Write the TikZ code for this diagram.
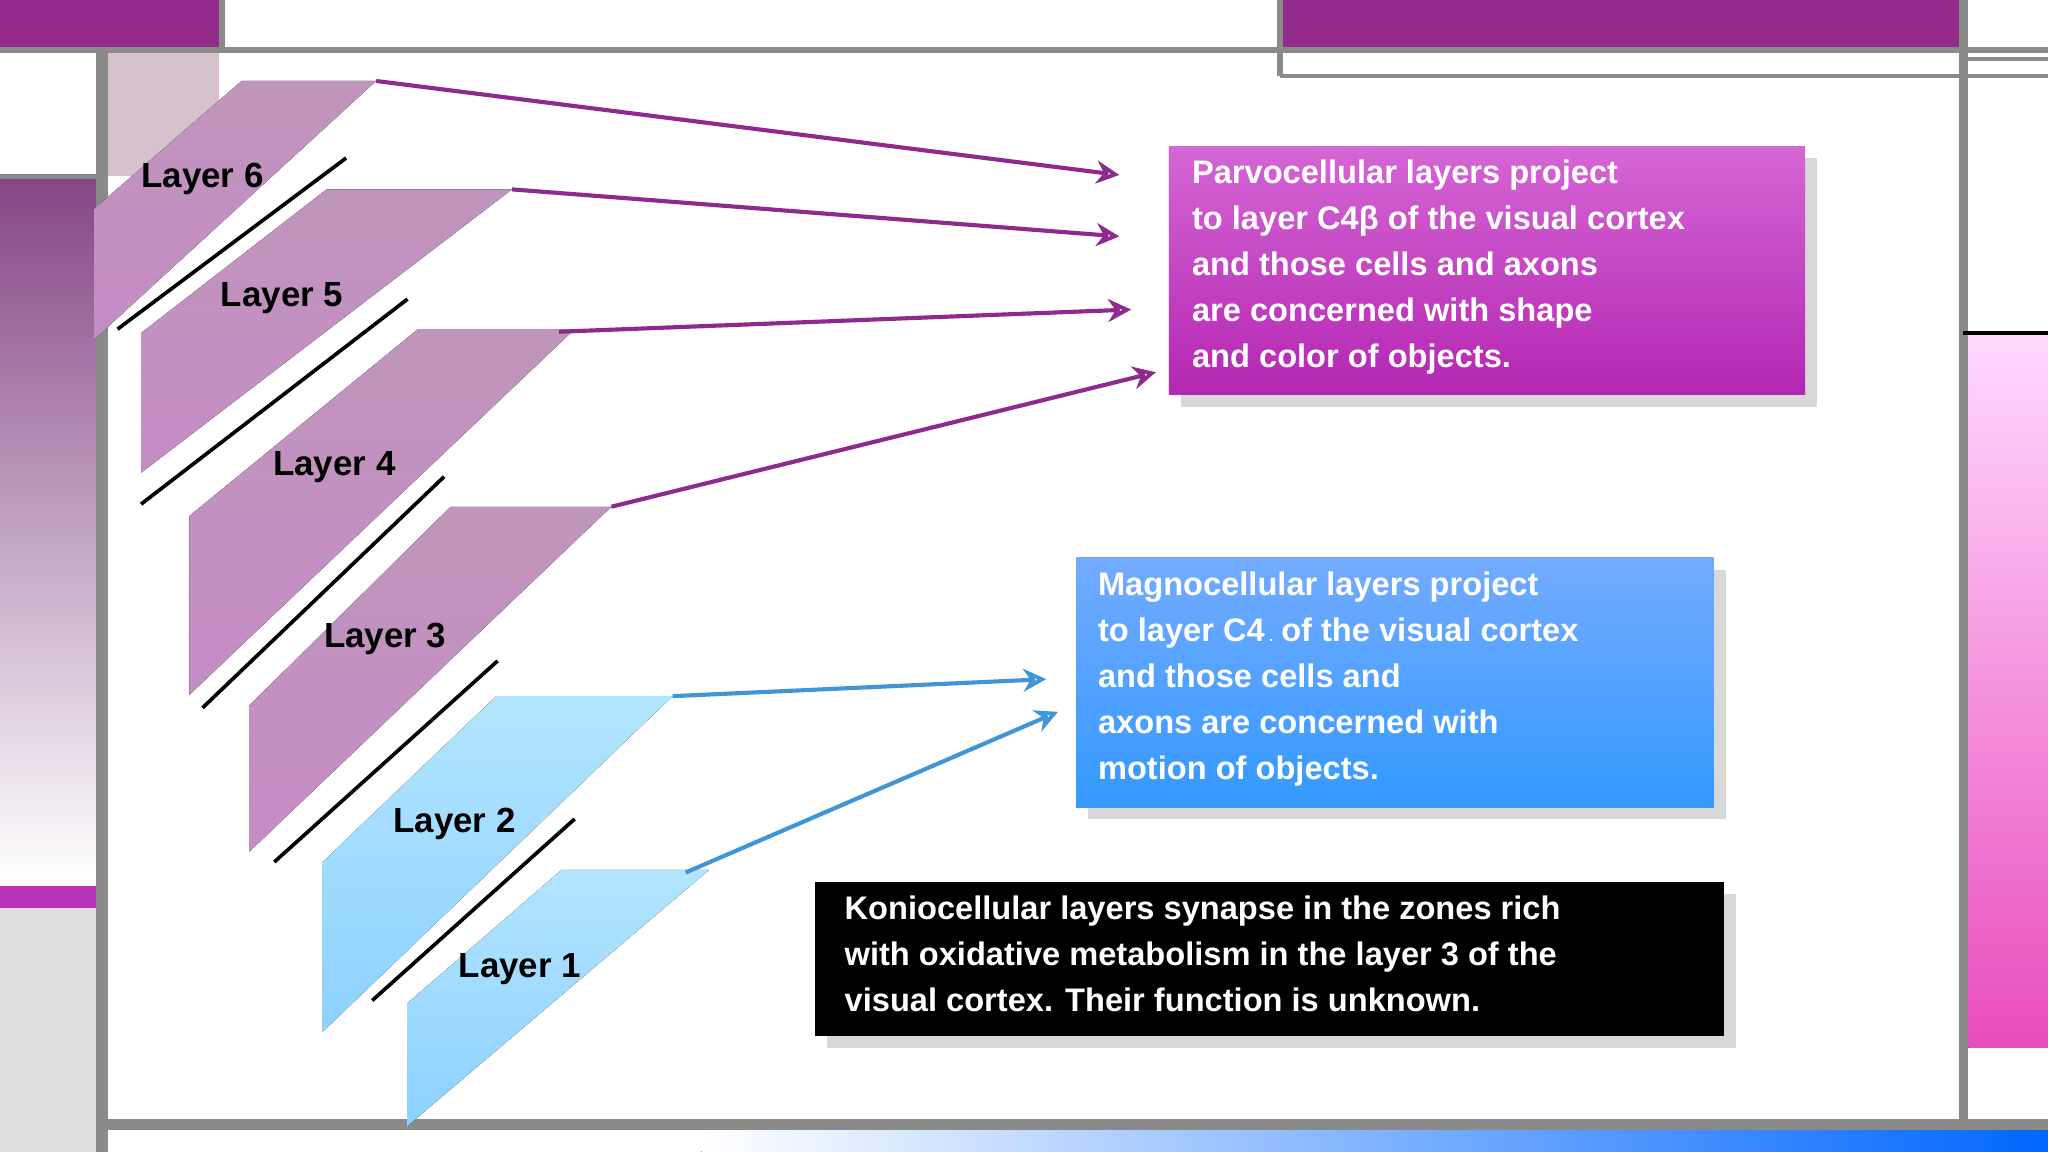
\documentclass[tikz,border=0pt]{standalone}
\usepackage{fontspec}
\setmainfont{Liberation Sans}
\usetikzlibrary{shadows,arrows.meta}
\definecolor{mag}{HTML}{932A8C}
\definecolor{grl}{HTML}{8A8A8A}
\definecolor{parr}{HTML}{8E2A8E}
\definecolor{blarr}{HTML}{3F95D8}
\tikzset{
 lay/.style={font=\fontsize{7.6pt}{9pt}\selectfont\bfseries,text=black},
 purplay/.style={top color=purple!10!violet!35!white!90!black, bottom color=violet!45!white, draw=none},
 bluelay/.style={top color=blue!35!cyan!30!white, bottom color=blue!40!cyan!45!white, draw=none},
 sep/.style={black,line width=0.8pt},
 parrow/.style={parr,line width=0.9pt,-{Stealth[open,length=5pt,width=5pt]}},
 barrow/.style={blarr,line width=0.9pt,-{Stealth[open,length=5pt,width=5pt]}},
 boxtxt/.style={font=\fontsize{7.1pt}{10pt}\selectfont\bfseries,text=white,align=left,anchor=north west,inner sep=0pt},
 gline/.style={grl,line width=1.3pt}
}
\begin{document}
\begin{tikzpicture}[x=0.01cm,y=-0.01cm]
\useasboundingbox (0,0) rectangle (1568,882);
\fill[white] (0,0) rectangle (1568,882);
% frame decorations
\fill[mag] (0,0) rectangle (168,38);
\fill[mag] (980,0) rectangle (1500,38);
\fill[white!80!black!90!magenta] (82,40) rectangle (168,135);
\fill[top color=black!45!magenta!45!gray, bottom color=white] (0,137) rectangle (75,675);
\fill[violet!70!magenta!80!white] (0,678) rectangle (75,695);
\fill[gray!25] (0,695) rectangle (75,882);
\fill[top color=magenta!15!white, bottom color=magenta!50!purple!70!white] (1507,255) rectangle (1568,802);
\fill[left color=white, right color=blue!60!cyan] (537,865) rectangle (1568,882);
\draw[gline] (0,38) -- (1568,38);
\draw[grl,line width=0.8pt] (980,58) -- (1568,58);
\draw[grl,line width=0.8pt] (1503,45) -- (1568,45);
\draw[gline] (170,0) -- (170,40);
\draw[gline] (980,0) -- (980,58);
\draw[grl,line width=2.5pt] (78,40) -- (78,882);
\draw[grl,line width=2pt] (1503,0) -- (1503,862);
\draw[grl,line width=2.5pt] (78,861) -- (1568,861);
\draw[grl,line width=1pt] (0,135) -- (78,135);
\draw[black,line width=1pt] (1503,255) -- (1568,255);
% layers
\fill[purplay] (185,62) coordinate (t6a) -- (288,62) coordinate (t6) -- (72,260) -- (72,160) -- cycle;
\fill[purplay] (250,145) -- (392,145) coordinate (t5) -- (108,362) -- (108,255) -- cycle;
\fill[purplay] (320,252) -- (440,252) -- (145,532) -- (145,395) -- cycle;
\coordinate (t4) at (428,254);
\fill[purplay] (345,388) -- (468,388) coordinate (t3) -- (191,652) -- (191,540) -- cycle;
\fill[bluelay] (380,533) -- (515,533) coordinate (t2) -- (247,790) -- (247,660) -- cycle;
\fill[bluelay] (430,666) -- (543,666) -- (312,862) -- (312,768) -- cycle;
\coordinate (t1) at (525,668);
\draw[sep] (90,252) coordinate (s1a) -- (265,121) coordinate (s1b);
\draw[sep] (108,386) -- (312,229);
\draw[sep] (155,542) -- (340,365);
\draw[sep] (210,660) -- (381,506);
\draw[sep] (285,766) -- (440,627);
\node[lay] (l6) at (155,137) {Layer 6};
\node[lay] (l5) at (216,228) {Layer 5};
\node[lay] (l4) at (256,358) {Layer 4};
\node[lay] (l3) at (295,489) {Layer 3};
\node[lay] (l2) at (348,631) {Layer 2};
\node[lay] (l1) at (398,742) {Layer 1};
% boxes
\fill[top color=violet!55!magenta!60!white, bottom color=violet!70!magenta!85!white, drop shadow={opacity=0.3}] (895,112) rectangle (1382,302);
\node[boxtxt] (pt) at (912,122) {Parvocellular layers project\\to layer C4β of the visual cortex\\and those cells and axons\\are concerned with shape\\and color of objects.};
\fill[top color=cyan!40!blue!55!white, bottom color=cyan!50!blue!80!white, drop shadow={opacity=0.3}] (824,427) rectangle (1312,618);
\node[boxtxt] (mt) at (840,437) {Magnocellular layers project\\to layer C4\,\tikz\draw[white,line width=0.4pt] (0,0) rectangle (0.09,0.19);\ of the visual cortex\\and those cells and\\axons are concerned with\\motion of objects.};
\fill[black, drop shadow={opacity=0.3}] (624,675) rectangle (1320,793);
\node[boxtxt] (kt) at (646,685) {Koniocellular layers synapse in the zones rich\\with oxidative metabolism in the layer 3 of the\\visual cortex. Their function is unknown.};
% arrows
\coordinate (p1) at (857,134);
\coordinate (p2) at (857,181);
\coordinate (p3) at (866,237);
\coordinate (p4) at (885,285);
\coordinate (m1) at (801,520);
\coordinate (m2) at (810,545);
\draw[parrow] (t6) -- (p1);
\draw[parrow] (t5) -- (p2);
\draw[parrow] (t4) -- (p3);
\draw[parrow] (t3) -- (p4);
\draw[barrow] (t2) -- (m1);
\draw[barrow] (t1) -- (m2);
\end{tikzpicture}
\end{document}
